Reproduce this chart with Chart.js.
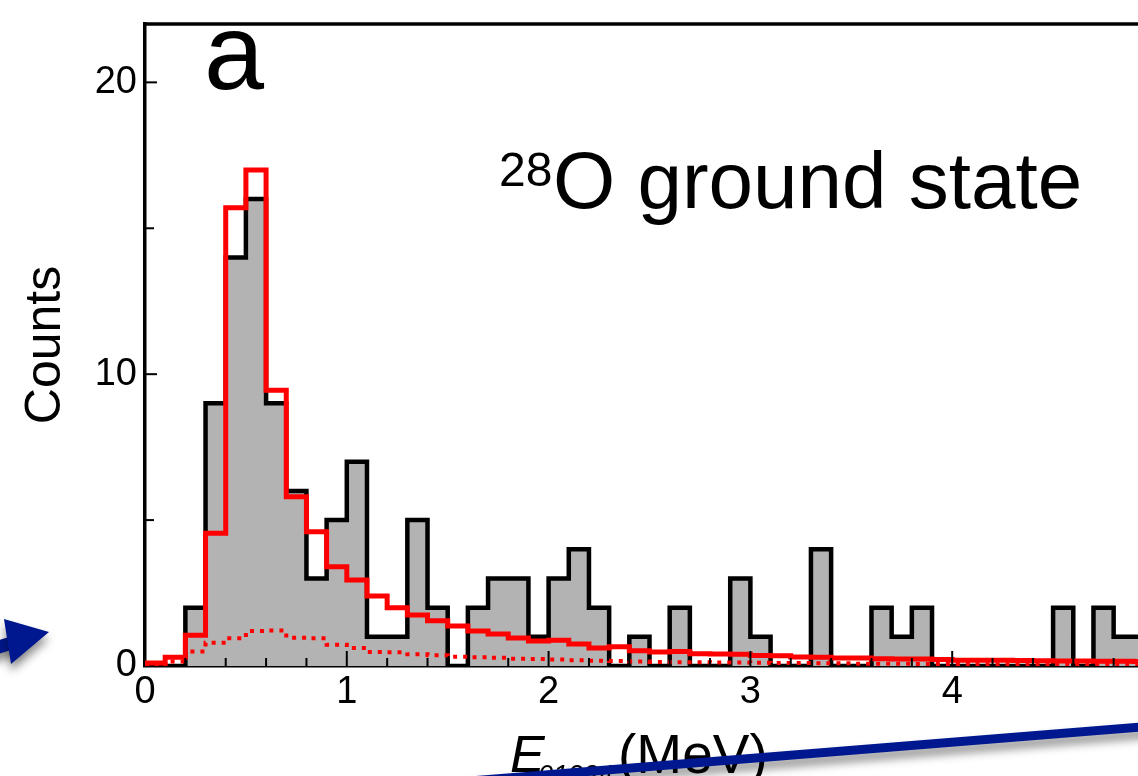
<!DOCTYPE html>
<html>
<head>
<meta charset="utf-8">
<script src="https://cdn.jsdelivr.net/npm/chart.js@4/dist/chart.umd.min.js"></script>
<style>
  html, body { margin: 0; padding: 0; background: #fff; overflow: hidden; }
  #wrap { width: 1138px; height: 776px; overflow: hidden; }
</style>
</head>
<body>
<div id="wrap"><canvas id="hist" width="1160" height="776"></canvas></div>
<script>
// histogram bins of 0.1 MeV starting at 0
let binWidth = 0.1;
let counts = [0, 0, 2, 9, 14, 16, 9, 6, 3, 5,
              7, 1, 1, 5, 2, 0, 2, 3, 3, 1,
              3, 4, 2, 0, 1, 0, 2, 0, 0, 3,
              1, 0, 0, 4, 0, 0, 2, 1, 2, 0,
              0, 0, 0, 0, 0, 2, 0, 2, 1, 1];
let fitTotal = [0.1, 0.3, 1.05, 4.55, 15.7, 17.0, 9.45, 5.8, 4.6, 3.4,
                2.95, 2.4, 2.0, 1.75, 1.55, 1.37, 1.2, 1.1, 0.96, 0.86,
                0.88, 0.75, 0.62, 0.66, 0.52, 0.48, 0.5, 0.42, 0.41, 0.4,
                0.36, 0.35, 0.31, 0.3, 0.27, 0.27, 0.25, 0.24, 0.24, 0.22,
                0.2, 0.2, 0.2, 0.19, 0.18, 0.17, 0.17, 0.16, 0.16, 0.15];
let fitBackground = [0.0, 0.15, 0.5, 0.8, 0.95, 1.2, 1.22, 0.97, 0.95, 0.73,
                     0.62, 0.48, 0.47, 0.4, 0.37, 0.32, 0.3, 0.28, 0.25, 0.24,
                     0.22, 0.2, 0.18, 0.17, 0.15, 0.14, 0.13, 0.13, 0.12, 0.12,
                     0.11, 0.1, 0.1, 0.09, 0.09, 0.08, 0.08, 0.08, 0.07, 0.07,
                     0.07, 0.06, 0.06, 0.06, 0.06, 0.05, 0.05, 0.05, 0.05, 0.05];
let xTickLabels = [0, 1, 2, 3, 4];
let yTickLabels = [0, 10, 20];

let fontFamily = '"Liberation Sans", Arial, Helvetica, sans-serif';

// points at the bin edges, last value repeated to close the final bin
function toSteps(values) {
  let pts = values.map(function (v, i) { return { x: i * binWidth, y: v }; });
  pts.push({ x: values.length * binWidth, y: values[values.length - 1] });
  return pts;
}

// frame, inward ticks, panel texts and the blue arrows from the figure
let decorations = {
  id: 'decorations',
  afterDraw: function (chart) {
    let ctx = chart.ctx;
    let area = chart.chartArea;
    let xs = chart.scales.x;
    let ys = chart.scales.y;
    ctx.save();

    // top border of the frame
    ctx.strokeStyle = '#000';
    ctx.lineWidth = 3.5;
    ctx.beginPath();
    ctx.moveTo(area.left - 1.5, area.top);
    ctx.lineTo(area.right, area.top);
    ctx.stroke();

    // ticks pointing into the plot
    ctx.lineWidth = 2;
    xs.ticks.forEach(function (t) {
      let v = Math.round(t.value * 10) / 10;
      if (v <= 0 || v >= xs.max) return;
      let px = xs.getPixelForValue(v);
      let len = Number.isInteger(v) ? 15 : 8;
      ctx.beginPath();
      ctx.moveTo(px, area.bottom);
      ctx.lineTo(px, area.bottom - len);
      ctx.stroke();
    });
    ys.ticks.forEach(function (t) {
      let v = t.value;
      if (v <= 0 || v % 5 !== 0) return;
      let py = ys.getPixelForValue(v);
      let len = v % 10 === 0 ? 12 : 9;
      ctx.beginPath();
      ctx.moveTo(area.left, py);
      ctx.lineTo(area.left + len, py);
      ctx.stroke();
    });

    ctx.fillStyle = '#000';
    ctx.textBaseline = 'alphabetic';
    ctx.textAlign = 'left';

    // panel letter
    ctx.font = '108px ' + fontFamily;
    ctx.fillText('a', 204, 89);

    // 28O ground state
    ctx.font = '48px ' + fontFamily;
    ctx.fillText('28', 499, 186);
    ctx.font = '80px ' + fontFamily;
    ctx.fillText('O ground state', 553, 208);

    // x axis title E_01234 (MeV)
    ctx.font = 'italic 52px ' + fontFamily;
    ctx.fillText('E', 510, 772);
    ctx.font = 'italic 27px ' + fontFamily;
    ctx.fillText('01234', 538, 784);
    ctx.font = '55px ' + fontFamily;
    ctx.fillText('(MeV)', 618, 773);

    // blue arrows (with shadow)
    ctx.shadowColor = 'rgba(0,0,0,0.45)';
    ctx.shadowBlur = 10;
    ctx.shadowOffsetY = 7;
    ctx.fillStyle = '#00188f';
    ctx.strokeStyle = '#00188f';

    ctx.lineWidth = 9;
    ctx.beginPath();
    ctx.moveTo(470, 781);
    ctx.lineTo(1165, 725);
    ctx.stroke();

    ctx.lineWidth = 13;
    ctx.beginPath();
    ctx.moveTo(-30, 656);
    ctx.lineTo(18, 641);
    ctx.stroke();
    ctx.beginPath();
    ctx.moveTo(4, 619);
    ctx.lineTo(49, 632);
    ctx.lineTo(11, 664);
    ctx.closePath();
    ctx.fill();

    ctx.restore();
  }
};

let ctx = document.getElementById('hist').getContext('2d');
let histChart = new Chart(ctx, {
  type: 'line',
  data: {
    datasets: [
      {
        label: 'data',
        data: toSteps(counts),
        stepped: 'before',
        borderColor: '#000',
        borderWidth: 4.5,
        backgroundColor: '#b3b3b3',
        fill: 'origin',
        pointRadius: 0,
        order: 3
      },
      {
        label: 'background',
        data: toSteps(fitBackground),
        stepped: 'before',
        borderColor: '#ff0000',
        borderWidth: 4,
        borderDash: [4, 6],
        fill: false,
        pointRadius: 0,
        order: 2
      },
      {
        label: 'fit',
        data: toSteps(fitTotal),
        stepped: 'before',
        borderColor: '#ff0000',
        borderWidth: 5,
        fill: false,
        pointRadius: 0,
        order: 1
      }
    ]
  },
  options: {
    responsive: false,
    animation: false,
    devicePixelRatio: 1,
    layout: { padding: { left: 0, top: 24, right: 6, bottom: 0 } },
    plugins: {
      legend: { display: false },
      tooltip: { enabled: false }
    },
    scales: {
      x: {
        type: 'linear',
        min: 0,
        max: 5,
        afterFit: function (s) {
          s.height = 110;
          s.paddingLeft = 0;
          s.paddingRight = 0;
        },
        grid: { display: false, drawTicks: false },
        border: { display: true, color: '#000', width: 3.5 },
        ticks: {
          stepSize: 0.2,
          autoSkip: false,
          maxRotation: 0,
          padding: 4,
          color: '#000',
          font: { family: fontFamily, size: 38 },
          callback: function (value) {
            let v = Math.round(value * 10) / 10;
            return xTickLabels.includes(v) ? String(v) : '';
          }
        }
      },
      y: {
        min: 0,
        max: 22,
        afterFit: function (s) {
          s.width = 145;
          s.paddingTop = 0;
          s.paddingBottom = 0;
        },
        grid: { display: false, drawTicks: false },
        border: { display: true, color: '#000', width: 3.5 },
        ticks: {
          stepSize: 5,
          padding: 8,
          color: '#000',
          font: { family: fontFamily, size: 38 },
          callback: function (value) {
            return yTickLabels.includes(value) ? String(value) : '';
          }
        },
        title: {
          display: true,
          text: 'Counts',
          color: '#000',
          padding: { top: 16, bottom: 0 },
          font: { family: fontFamily, size: 50 }
        }
      }
    }
  },
  plugins: [decorations]
});
</script>
</body>
</html>
